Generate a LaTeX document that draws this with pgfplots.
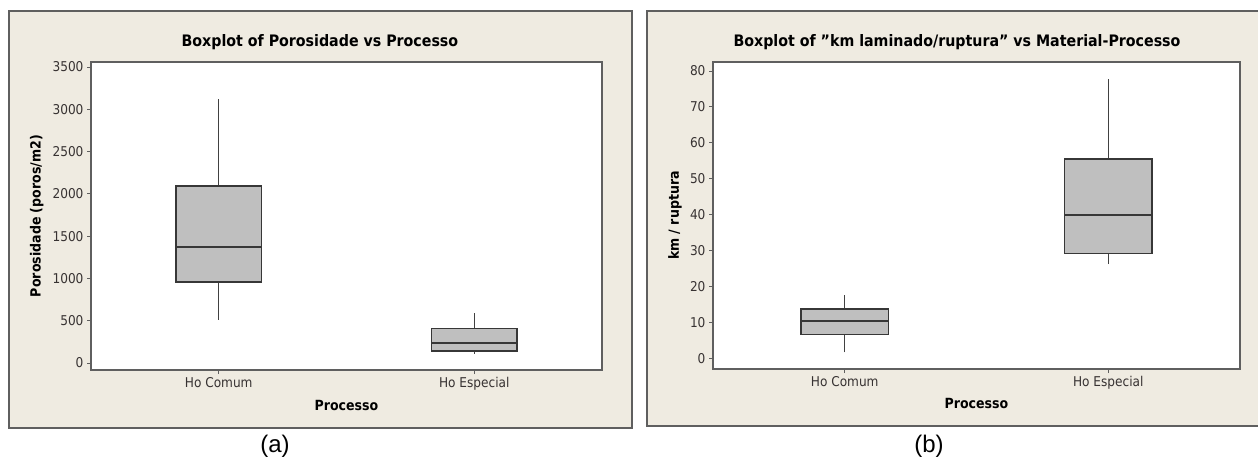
\documentclass[border=0pt]{standalone}
\usepackage{fontspec}
\setmainfont{DejaVu Sans Condensed}[Ligatures=ResetAll]
\newfontfamily\arialfont{Liberation Sans}
\usepackage{pgfplots}
\pgfplotsset{compat=1.18}
\definecolor{bgbeige}{RGB}{239,235,225}
\definecolor{framegray}{RGB}{95,95,95}
\definecolor{boxfill}{RGB}{191,191,191}
\definecolor{boxline}{RGB}{55,55,55}
\definecolor{whiskline}{RGB}{65,65,65}
\definecolor{ticktext}{RGB}{55,50,50}
\pgfplotsset{
 mystyle/.style={
  scale only axis, anchor=south west,
  xmin=0.5, xmax=2.5, xtick={1,2}, xticklabels={Ho Comum, Ho Especial},
  tick align=outside, xtick pos=bottom, ytick pos=left,
  major tick length=4pt,
  every tick/.style={framegray, line width=0.9pt},
  axis line style={framegray, line width=1.4pt},
  axis background/.style={fill=white},
  ticklabel style={font=\fontsize{13.5}{15}\selectfont, text=ticktext},
  /pgf/number format/assume math mode=true,
  /pgf/number format/1000 sep={},
  label style={font=\bfseries\fontsize{14}{16}\selectfont},
  every axis title shift=0pt,
  title style={font=\bfseries\fontsize{15.8}{18}\selectfont, anchor=base},
  every axis plot/.append style={mark=none},
 },
 boxst/.style={draw=boxline, fill=boxfill, line width=1.5pt},
 medst/.style={draw=boxline, line width=1.5pt},
 whst/.style={draw=whiskline, line width=1.2pt},
}
\begin{document}
\begin{tikzpicture}
\useasboundingbox (0,0) rectangle (1258pt,-459pt);
\fill[bgbeige] (9pt,-11pt) rectangle (632pt,-428pt);
\draw[framegray, line width=1.5pt] (9pt,-11pt) rectangle (632pt,-428pt);
\fill[bgbeige] (647pt,-11pt) rectangle (1268pt,-426pt);
\draw[framegray, line width=1.5pt] (647pt,-11pt) rectangle (1268pt,-426pt);
\begin{axis}[mystyle, at={(91pt,-370pt)}, width=511pt, height=308pt,
  ymin=-83, ymax=3559, ytick={0,500,...,3500},
  title={Boxplot of Porosidade vs Processo},
  title style={at={(axis description cs:0.448,1.049)}},
  xlabel={Processo},
  xlabel style={at={(axis description cs:0.5,-0.13)}, anchor=base},
  ylabel={Porosidade (poros/m2)},
  ylabel style={at={(axis description cs:-0.106,0.5)}, anchor=center}]
% Ho Comum: whiskers 511 / 3119, quartiles 956 / 2092, median 1369
\addplot[whst] coordinates {(1,511) (1,956)};
\addplot[whst] coordinates {(1,2092) (1,3119)};
\addplot[boxst] coordinates {(0.8335,956) (1.1665,956) (1.1665,2092) (0.8335,2092)} -- cycle;
\addplot[medst] coordinates {(0.8335,1369) (1.1665,1369)};
% Ho Especial: whiskers 110 / 590, quartiles 142 / 409, median 236
\addplot[whst] coordinates {(2,110) (2,142)};
\addplot[whst] coordinates {(2,409) (2,590)};
\addplot[boxst] coordinates {(1.8335,142) (2.1665,142) (2.1665,409) (1.8335,409)} -- cycle;
\addplot[medst] coordinates {(1.8335,236) (2.1665,236)};
\end{axis}
\begin{axis}[mystyle, at={(713pt,-369pt)}, width=527pt, height=307pt,
  ymin=-2.9, ymax=82.5, ytick={0,10,...,80},
  title={Boxplot of "km laminado/ruptura" vs Material-Processo},
  title style={at={(axis description cs:0.463,1.049)}},
  xlabel={Processo},
  xlabel style={at={(axis description cs:0.5,-0.13)}, anchor=base},
  ylabel={km / ruptura},
  ylabel style={at={(axis description cs:-0.072,0.5)}, anchor=center}]
% Ho Comum: whiskers 1.7 / 17.7, quartiles 6.7 / 13.8, median 10.5
\addplot[whst] coordinates {(1,1.7) (1,6.7)};
\addplot[whst] coordinates {(1,13.8) (1,17.7)};
\addplot[boxst] coordinates {(0.8335,6.7) (1.1665,6.7) (1.1665,13.8) (0.8335,13.8)} -- cycle;
\addplot[medst] coordinates {(0.8335,10.5) (1.1665,10.5)};
% Ho Especial: whiskers 26.3 / 77.9, quartiles 29.2 / 55.5, median 39.9
\addplot[whst] coordinates {(2,26.3) (2,29.2)};
\addplot[whst] coordinates {(2,55.5) (2,77.9)};
\addplot[boxst] coordinates {(1.8335,29.2) (2.1665,29.2) (2.1665,55.5) (1.8335,55.5)} -- cycle;
\addplot[medst] coordinates {(1.8335,39.9) (2.1665,39.9)};
\end{axis}
\node[font=\arialfont\fontsize{24}{28}\selectfont] at (275pt,-446pt) {(a)};
\node[font=\arialfont\fontsize{24}{28}\selectfont] at (929pt,-446pt) {(b)};
\end{tikzpicture}
\end{document}
